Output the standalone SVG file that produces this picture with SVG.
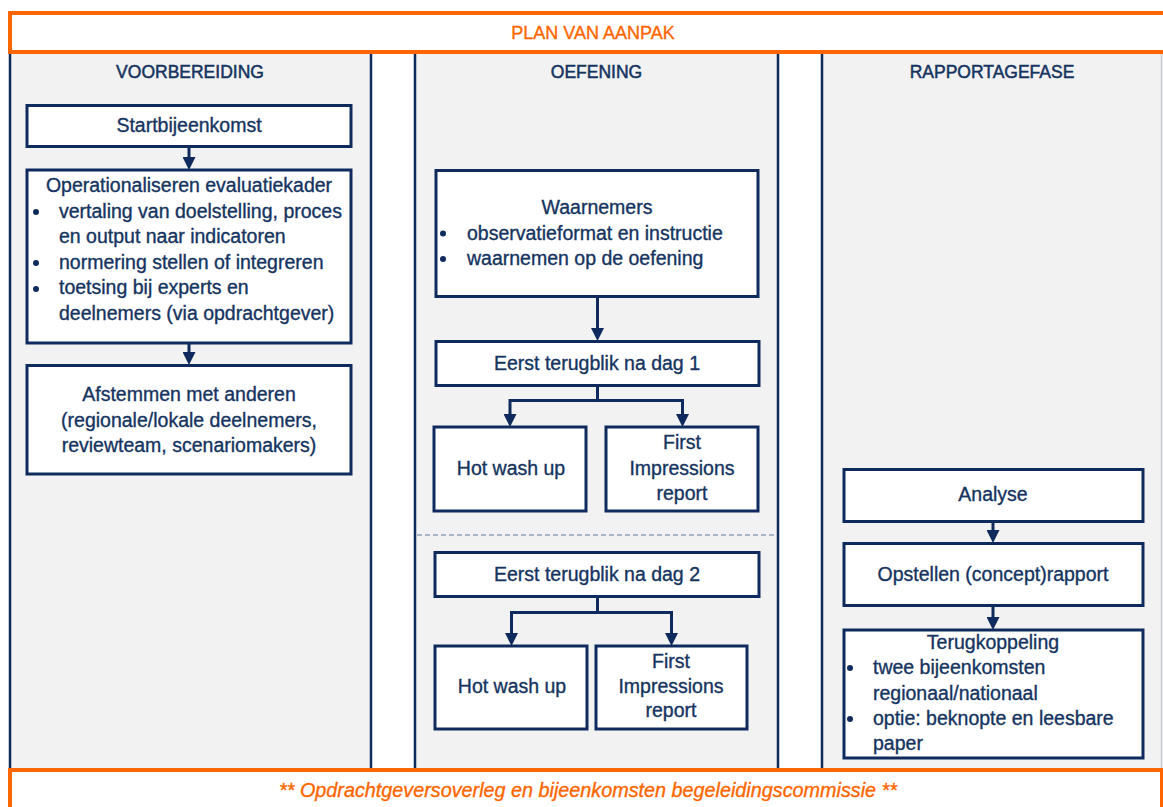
<svg xmlns="http://www.w3.org/2000/svg" width="1163" height="807" viewBox="0 0 1163 807">
<style>
.col{fill:#F2F2F2;}
.colb{stroke:#0F2A5C;stroke-width:2.5;fill:none;}
.box{fill:#FFFFFF;stroke:#0F2A5C;stroke-width:3;}
.t{font-family:"Liberation Sans",Arial,sans-serif;font-size:19.5px;fill:#153460;stroke:#153460;stroke-width:0.35px;}
.c{text-anchor:middle;}
.h{font-family:"Liberation Sans",Arial,sans-serif;font-size:17.5px;fill:#153460;stroke:#153460;stroke-width:0.5px;text-anchor:middle;}
.or{fill:none;stroke:#FF6600;stroke-width:4;}
.ot{font-family:"Liberation Sans",Arial,sans-serif;fill:#FF6600;stroke:#FF6600;stroke-width:0.35px;text-anchor:middle;}
.con{fill:none;stroke:#0F2A5C;stroke-width:3;}
.dot{fill:#0F2A5C;}
</style>
<defs>
<marker id="ah" viewBox="0 0 13 13" refX="8" refY="6.5" markerWidth="13" markerHeight="13" markerUnits="userSpaceOnUse" orient="auto">
<path d="M0,0 L13,6.5 L0,13 z" fill="#0F2A5C"/>
</marker>
</defs>
<rect width="1163" height="807" fill="#FFFFFF"/>

<g id="columns">
<rect class="col" x="10" y="53" width="361" height="716"/>
<rect class="col" x="415" y="53" width="363" height="716"/>
<rect class="col" x="822" y="53" width="341" height="716"/>
<line class="colb" x1="10" y1="53" x2="10" y2="769"/>
<line class="colb" x1="371" y1="53" x2="371" y2="769"/>
<line class="colb" x1="415" y1="53" x2="415" y2="769"/>
<line class="colb" x1="778" y1="53" x2="778" y2="769"/>
<line class="colb" x1="822" y1="53" x2="822" y2="769"/>
<line x1="1161.5" y1="53" x2="1161.5" y2="769" stroke="#C8CCD4" stroke-width="1.5"/>
<line x1="417" y1="535" x2="777" y2="535" stroke="#5F76A0" stroke-width="1" stroke-dasharray="5,3"/>
<text class="h" x="190" y="77.5">VOORBEREIDING</text>
<text class="h" x="596.5" y="77.5">OEFENING</text>
<text class="h" x="992" y="77.5">RAPPORTAGEFASE</text>
</g>

<g id="header">
<rect x="10" y="13" width="1160" height="39" fill="#FFFFFF"/>
<rect class="or" x="10" y="13" width="1160" height="39"/>
<text class="ot" x="593" y="39" font-size="18px">PLAN VAN AANPAK</text>
</g>

<g id="footer">
<rect x="10" y="770" width="1152" height="50" fill="#FFFFFF"/>
<rect class="or" x="10" y="770" width="1152" height="50"/>
<text class="ot" x="588" y="796.5" font-size="19.8px" font-style="italic">** Opdrachtgeversoverleg en bijeenkomsten begeleidingscommissie **</text>
</g>

<g id="connectors">
<line class="con" x1="189" y1="147" x2="189" y2="165" marker-end="url(#ah)"/>
<line class="con" x1="189" y1="343" x2="189" y2="360" marker-end="url(#ah)"/>
<line class="con" x1="597.5" y1="296" x2="597.5" y2="336" marker-end="url(#ah)"/>
<polyline class="con" points="597.5,386 597.5,400.5 510,400.5 510,422" marker-end="url(#ah)"/>
<polyline class="con" points="597.5,400.5 682.5,400.5 682.5,422" marker-end="url(#ah)"/>
<polyline class="con" points="597.5,597 597.5,612.5 511.5,612.5 511.5,641" marker-end="url(#ah)"/>
<polyline class="con" points="597.5,612.5 671.5,612.5 671.5,641" marker-end="url(#ah)"/>
<line class="con" x1="993" y1="522" x2="993" y2="538" marker-end="url(#ah)"/>
<line class="con" x1="993" y1="606" x2="993" y2="625" marker-end="url(#ah)"/>
</g>

<g id="startbijeenkomst">
<rect class="box" x="27" y="105.5" width="324" height="41"/>
<text class="t c" x="189" y="132">Startbijeenkomst</text>
</g>

<g id="operationaliseren">
<rect class="box" x="27" y="170" width="324" height="173"/>
<text class="t c" x="189" y="192">Operationaliseren evaluatiekader</text>
<circle class="dot" cx="36" cy="212" r="3"/>
<text class="t" x="59" y="217.5">vertaling van doelstelling, proces</text>
<text class="t" x="59" y="242.5">en output naar indicatoren</text>
<circle class="dot" cx="36" cy="263" r="3"/>
<text class="t" x="59" y="268.5">normering stellen of integreren</text>
<circle class="dot" cx="36" cy="289" r="3"/>
<text class="t" x="59" y="294">toetsing bij experts en</text>
<text class="t" x="59" y="319.5">deelnemers (via opdrachtgever)</text>
</g>

<g id="afstemmen">
<rect class="box" x="27" y="365.5" width="324" height="108.5"/>
<text class="t c" x="189" y="401">Afstemmen met anderen</text>
<text class="t c" x="189" y="427">(regionale/lokale deelnemers,</text>
<text class="t c" x="189" y="452">reviewteam, scenariomakers)</text>
</g>

<g id="waarnemers">
<rect class="box" x="436" y="170.5" width="322" height="126"/>
<text class="t c" x="597" y="214">Waarnemers</text>
<circle class="dot" cx="443" cy="233.5" r="3"/>
<text class="t" x="467" y="240">observatieformat en instructie</text>
<circle class="dot" cx="443" cy="259" r="3"/>
<text class="t" x="467" y="265">waarnemen op de oefening</text>
</g>

<g id="terugblik1">
<rect class="box" x="436" y="341.5" width="323" height="44"/>
<text class="t c" x="597" y="370">Eerst terugblik na dag 1</text>
</g>

<g id="hotwash1">
<rect class="box" x="434" y="427" width="152" height="84"/>
<text class="t c" x="511" y="475">Hot wash up</text>
</g>

<g id="firstimpressions1">
<rect class="box" x="606" y="427" width="152" height="84"/>
<text class="t c" x="682" y="449">First</text>
<text class="t c" x="682" y="474.5">Impressions</text>
<text class="t c" x="682" y="499.5">report</text>
</g>

<g id="terugblik2">
<rect class="box" x="435" y="552.5" width="324" height="44"/>
<text class="t c" x="597" y="581">Eerst terugblik na dag 2</text>
</g>

<g id="hotwash2">
<rect class="box" x="435" y="646" width="152" height="83"/>
<text class="t c" x="512" y="692.5">Hot wash up</text>
</g>

<g id="firstimpressions2">
<rect class="box" x="596" y="646" width="151" height="83"/>
<text class="t c" x="671" y="667.5">First</text>
<text class="t c" x="671" y="692.5">Impressions</text>
<text class="t c" x="671" y="717">report</text>
</g>

<g id="analyse">
<rect class="box" x="844" y="469.5" width="299" height="52"/>
<text class="t c" x="993" y="501">Analyse</text>
</g>

<g id="opstellen">
<rect class="box" x="844" y="543.5" width="299" height="62"/>
<text class="t c" x="993" y="581">Opstellen (concept)rapport</text>
</g>

<g id="terugkoppeling">
<rect class="box" x="844" y="630" width="299" height="128"/>
<text class="t c" x="993" y="649">Terugkoppeling</text>
<circle class="dot" cx="850" cy="668" r="3"/>
<text class="t" x="873" y="674">twee bijeenkomsten</text>
<text class="t" x="873" y="699.5">regionaal/nationaal</text>
<circle class="dot" cx="850" cy="719" r="3"/>
<text class="t" x="873" y="724.5">optie: beknopte en leesbare</text>
<text class="t" x="873" y="749.5">paper</text>
</g>
</svg>
